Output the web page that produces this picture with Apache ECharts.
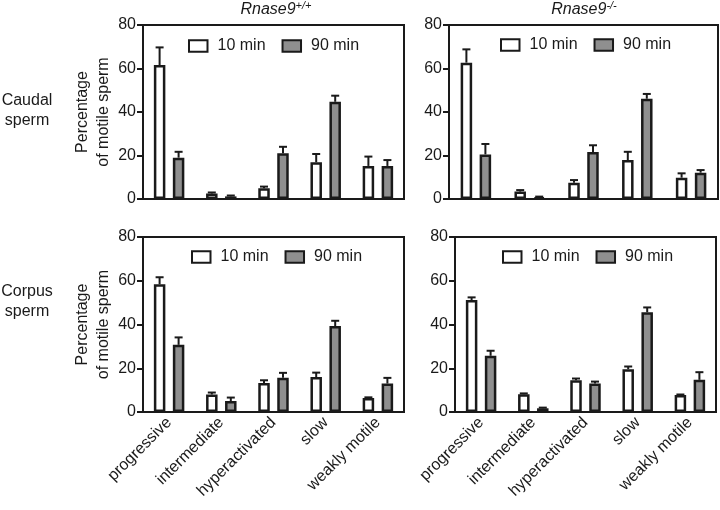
<!DOCTYPE html>
<html>
<head>
<meta charset="utf-8">
<script src="https://cdn.jsdelivr.net/npm/echarts@6/dist/echarts.min.js"></script>
<style>
  html, body { margin: 0; padding: 0; background: #fff; }
  #chart { width: 720px; height: 510px; }
</style>
</head>
<body>
<div id="chart"></div>
<script>
// categories and tick labels
var categories = ['progressive', 'intermediate', 'hyperactivated', 'slow', 'weakly motile'];
var yTicks = [0, 20, 40, 60, 80];

// caudal sperm, Rnase9+/+
var caudalWt10 = [61.6, 2.5, 4.9, 16.9, 15.2];
var caudalWt10Err = [8.1, 0.5, 0.8, 3.8, 4.3];
var caudalWt90 = [19.0, 1.2, 21.0, 44.7, 15.2];
var caudalWt90Err = [2.7, 0.4, 3.0, 2.8, 2.7];
// caudal sperm, Rnase9-/-
var caudalKo10 = [62.7, 3.4, 7.5, 17.9, 9.8];
var caudalKo10Err = [6.1, 0.7, 1.2, 3.8, 2.0];
var caudalKo90 = [20.5, 0.8, 21.6, 46.1, 12.1];
var caudalKo90Err = [4.8, 0.3, 3.1, 2.2, 1.2];
// corpus sperm, Rnase9+/+
var corpusWt10 = [58.4, 8.0, 13.3, 16.0, 6.4];
var corpusWt10Err = [3.2, 0.9, 1.2, 2.0, 0.3];
var corpusWt90 = [30.7, 5.0, 15.7, 39.3, 13.0];
var corpusWt90Err = [3.4, 1.6, 2.2, 2.4, 2.6];
// corpus sperm, Rnase9-/-
var corpusKo10 = [51.2, 8.1, 14.5, 19.6, 7.8];
var corpusKo10Err = [1.2, 0.4, 0.8, 1.2, 0.2];
var corpusKo90 = [25.7, 1.7, 13.0, 45.6, 14.7];
var corpusKo90Err = [2.3, 0.3, 0.9, 2.2, 3.5];

var FONT = '"Liberation Sans", Arial, sans-serif';
var INK = '#1a1a1a';
var GRAY = '#8f8f8f';

var panels = [
  { grid: { left: 143, top: 25, width: 261, height: 174 }, a: caudalWt10, ae: caudalWt10Err, b: caudalWt90, be: caudalWt90Err, labels: false, name: true, legend: { left: 188, top: 38 } },
  { grid: { left: 449, top: 25, width: 269, height: 174 }, a: caudalKo10, ae: caudalKo10Err, b: caudalKo90, be: caudalKo90Err, labels: false, name: false, legend: { left: 500, top: 37 } },
  { grid: { left: 143, top: 237, width: 261, height: 175 }, a: corpusWt10, ae: corpusWt10Err, b: corpusWt90, be: corpusWt90Err, labels: true, name: true, legend: { left: 191, top: 249 } },
  { grid: { left: 455, top: 237, width: 261, height: 175 }, a: corpusKo10, ae: corpusKo10Err, b: corpusKo90, be: corpusKo90Err, labels: true, name: false, legend: { left: 502, top: 249 } }
];

function errorSeries(idx, vals, errs, off) {
  return {
    type: 'custom',
    xAxisIndex: idx,
    yAxisIndex: idx,
    z: 5,
    silent: true,
    data: vals.map(function (v, i) { return [i, v, errs[i]]; }),
    encode: { x: 0, y: 1 },
    renderItem: function (params, api) {
      var i = api.value(0);
      var x = api.coord([i, 0])[0] + off;
      var y0 = api.coord([i, api.value(1)])[1];
      var y1 = api.coord([i, api.value(1) + api.value(2)])[1];
      var st = { stroke: INK, lineWidth: 2 };
      return {
        type: 'group',
        children: [
          { type: 'line', shape: { x1: x, y1: y0, x2: x, y2: y1 }, style: st },
          { type: 'line', shape: { x1: x - 4, y1: y1, x2: x + 4, y2: y1 }, style: st }
        ]
      };
    }
  };
}

var grids = [], xAxes = [], yAxes = [], legends = [], series = [];
panels.forEach(function (p, idx) {
  grids.push(Object.assign({ show: true, borderColor: INK, borderWidth: 2, backgroundColor: 'transparent' }, p.grid));
  xAxes.push({
    type: 'category',
    gridIndex: idx,
    data: categories,
    axisLine: { lineStyle: { color: INK, width: 2 } },
    axisTick: { alignWithLabel: true, length: 6, lineStyle: { color: INK, width: 2 } },
    axisLabel: { show: p.labels, interval: 0, rotate: 45, margin: 8, color: INK, fontSize: 16, fontFamily: FONT }
  });
  yAxes.push({
    type: 'value',
    gridIndex: idx,
    min: yTicks[0],
    max: yTicks[yTicks.length - 1],
    interval: yTicks[1] - yTicks[0],
    splitLine: { show: false },
    axisLine: { show: true, lineStyle: { color: INK, width: 2 } },
    axisTick: { show: true, length: 6, lineStyle: { color: INK, width: 2 } },
    axisLabel: { margin: 7, color: INK, fontSize: 16, fontFamily: FONT },
    name: p.name ? 'Percentage\nof motile sperm' : '',
    nameLocation: 'middle',
    nameGap: 28,
    nameTextStyle: { color: INK, fontSize: 16, lineHeight: 21, fontFamily: FONT }
  });
  legends.push({
    data: ['10 min', '90 min'],
    left: p.legend.left,
    top: p.legend.top,
    padding: 0,
    itemWidth: 18.5,
    itemHeight: 11.5,
    itemGap: 16,
    icon: 'rect',
    selectedMode: false,
    textStyle: { color: INK, fontSize: 16, fontFamily: FONT, padding: [0, 0, 0, 5] }
  });
  series.push({
    name: '10 min', type: 'bar', xAxisIndex: idx, yAxisIndex: idx,
    data: p.a, barWidth: 11.5, barGap: '65%',
    itemStyle: { color: '#fff', borderColor: INK, borderWidth: 2.5 }
  });
  series.push({
    name: '90 min', type: 'bar', xAxisIndex: idx, yAxisIndex: idx,
    data: p.b, barWidth: 11.5, barGap: '65%',
    itemStyle: { color: GRAY, borderColor: INK, borderWidth: 2.5 }
  });
  series.push(errorSeries(idx, p.a, p.ae, -9.5));
  series.push(errorSeries(idx, p.b, p.be, 9.5));
});

var titleRich = {
  i: { fontSize: 16, fontStyle: 'italic', fontFamily: FONT, fill: INK, lineHeight: 20 },
  s: { fontSize: 11, fontStyle: 'italic', fontFamily: FONT, fill: INK, lineHeight: 11, verticalAlign: 'top' }
};

var chart = echarts.init(document.getElementById('chart'), null, { renderer: 'canvas' });
chart.setOption({
  animation: false,
  backgroundColor: '#fff',
  grid: grids,
  xAxis: xAxes,
  yAxis: yAxes,
  legend: legends,
  series: series,
  graphic: [
    { type: 'text', x: 276, y: 10, style: { text: '{i|Rnase9}{s|+/+}', rich: titleRich, align: 'center', verticalAlign: 'middle' } },
    { type: 'text', x: 584, y: 10, style: { text: '{i|Rnase9}{s|-/-}', rich: titleRich, align: 'center', verticalAlign: 'middle' } },
    { type: 'text', x: 27, y: 111, style: { text: 'Caudal\nsperm', font: '16px ' + FONT, fill: INK, align: 'center', verticalAlign: 'middle', lineHeight: 20 } },
    { type: 'text', x: 27, y: 302, style: { text: 'Corpus\nsperm', font: '16px ' + FONT, fill: INK, align: 'center', verticalAlign: 'middle', lineHeight: 20 } }
  ]
});
window.addEventListener('resize', function () { chart.resize(); });
</script>
</body>
</html>
